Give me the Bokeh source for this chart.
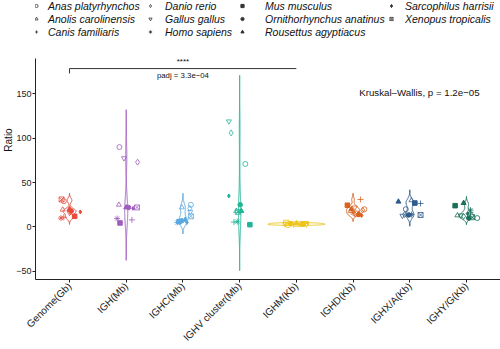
import numpy as np
from bokeh.plotting import figure
from bokeh.models import Legend, LegendItem, FixedTicker, Range1d, ColumnDataSource, Title
from bokeh.core.properties import value
from bokeh.embed import file_html
from bokeh.resources import INLINE

categories = ["Genome(Gb)", "IGH(Mb)", "IGHC(Mb)", "IGHV cluster(Mb)",
              "IGHM(Kb)", "IGHD(Kb)", "IGHX/A(Kb)", "IGHY/G(Kb)"]
species = ["Anas platyrhynchos", "Anolis carolinensis", "Canis familiaris",
           "Danio rerio", "Gallus gallus", "Homo sapiens", "Mus musculus",
           "Ornithorhynchus anatinus", "Rousettus agyptiacus",
           "Sarcophilus harrisii", "Xenopus tropicalis"]

# values per category, in species order
genome = [29, 19.5, 11, 17, 16, 10, 12, 18, 20, 17, 31]
igh = [90, 25, 8, 73, 77.5, 9.5, 4.5, 22, 22, 21, 22]
ighc = [25, 22, 6, 21, 17, 5, 6, 7, 8, 5, 12]
ighv = [71, 18, 5.5, 106, 119, 6, 2.6, 25, 18, 35, 17]
ighm = [2.0, 2.3, 2.4, 2.9, 3.1, 3.2, 3.6, 3.9, 4.1, 4.5, 4.8]
ighd = [20, 18, 31, 19, 22, 16, 24.5, 14, 20, 13, 15]
ighxa = [20, 30, 26.5, 14, 12.7, 14, 27, 13.5, 28.5, 26, 13.5]
ighyg = [10, 13, 16, 12, 13, 19, 24, 10, 27, 15, 11]
values = [genome, igh, ighc, ighv, ighm, ighd, ighxa, ighyg]

# horizontal jitter (category units)
jit_genome = [-0.10, -0.12, -0.10, 0.02, 0.00, -0.15, 0.09, 0.03, 0.00, 0.19, -0.14]
jit_igh = [-0.12, -0.13, 0.10, 0.20, -0.04, -0.16, -0.11, 0.04, 0.00, 0.12, 0.19]
jit_ighc = [0.14, -0.02, -0.05, 0.12, 0.13, -0.10, -0.07, -0.02, 0.04, 0.07, 0.14]
jit_ighv = [0.10, -0.06, -0.10, -0.15, -0.19, -0.04, 0.18, 0.01, 0.03, -0.19, -0.03]
jit_ighm = [-0.15, 0.10, -0.05, 0.18, -0.20, 0.05, 0.12, -0.10, 0.00, 0.20, -0.18]
jit_ighd = [0.20, -0.04, 0.13, 0.17, 0.03, 0.00, -0.10, 0.10, -0.03, 0.15, 0.06]
jit_ighxa = [-0.07, 0.03, 0.19, -0.09, -0.13, 0.03, 0.09, -0.02, -0.20, 0.07, 0.19]
jit_ighyg = [0.19, -0.16, 0.07, -0.05, -0.10, 0.07, -0.20, 0.04, -0.05, 0.02, 0.10]
jitters = [jit_genome, jit_igh, jit_ighc, jit_ighv, jit_ighm, jit_ighd, jit_ighxa, jit_ighyg]

colors = ["#E8493B", "#A05CC0", "#5BA8E0", "#1FB597", "#EFC419", "#D9611E", "#2D5B8A", "#17705A"]

markers = ["circle", "triangle", "cross", "diamond", "inverted_triangle", "asterisk",
           "square", "circle", "triangle", "diamond", "square_x"]
filled = [False, False, False, False, False, False, True, True, True, True, False]
msize = [5, 5, 6, 6, 5, 6, 4.5, 4.5, 5, 4, 5]

# legend column groups (column-major, 3 rows)
legend_columns = [[0, 1, 2], [3, 4, 5], [6, 7, 8], [9, 10]]
legend_col_x = [-3, 111, 203, 352]        # screen offset of each column from frame left
legend_col_standoff = [8, 11, 19, 10]

FONT = "Liberation Sans"
Y_LO, Y_HI, Y_TOP = -59.2, 190, 255.2

p = figure(width=500, height=349, output_backend="svg", toolbar_location=None,
           x_range=Range1d(0.4, 8.6), y_range=Range1d(Y_LO, Y_TOP),
           min_border_left=34, min_border_right=0, min_border_top=0, min_border_bottom=69)
p.grid.visible = False
p.outline_line_color = None
p.background_fill_color = "white"

# violins: gaussian KDE, bw.nrd0, extended 3 bw, area scaling, width 1
def nrd0(x):
    x = np.asarray(x, float)
    hi = np.std(x, ddof=1)
    q75, q25 = np.percentile(x, [75, 25])
    lo = min(hi, (q75 - q25) / 1.34)
    if lo <= 0:
        lo = hi if hi > 0 else 1.0
    return 0.9 * lo * len(x) ** -0.2

kdes = []
for vals in values:
    x = np.asarray(vals, float)
    bw = nrd0(x)
    g = np.linspace(x.min() - 3 * bw, x.max() + 3 * bw, 512)
    d = np.exp(-0.5 * ((g[:, None] - x[None, :]) / bw) ** 2).sum(axis=1) / (len(x) * bw * np.sqrt(2 * np.pi))
    kdes.append((g, d))
gmax = max(d.max() for g, d in kdes)
for i, (g, d) in enumerate(kdes):
    hw = 0.5 * d / gmax
    c = i + 1
    xs = np.concatenate([c - hw, (c + hw)[::-1]])
    ys = np.concatenate([g, g[::-1]])
    p.patch(xs, ys, fill_color="white", fill_alpha=0.0, line_color=colors[i], line_width=1)

# points
for s in range(len(species)):
    xs = [i + 1 + jitters[i][s] for i in range(len(categories))]
    ys = [values[i][s] for i in range(len(categories))]
    src = ColumnDataSource(dict(x=xs, y=ys, c=colors))
    if filled[s]:
        p.scatter("x", "y", source=src, marker=markers[s], size=msize[s],
                  fill_color="c", line_color="c", line_width=1)
    else:
        p.scatter("x", "y", source=src, marker=markers[s], size=msize[s],
                  fill_color=None, line_color="c", line_width=0.8)

# legend renderers (dark shapes)
leg_renderers = []
for s in range(len(species)):
    src = ColumnDataSource(dict(x=[np.nan], y=[np.nan]))
    if filled[s]:
        r = p.scatter("x", "y", source=src, marker=markers[s], size=msize[s],
                      fill_color="#333333", line_color="#333333")
    else:
        r = p.scatter("x", "y", source=src, marker=markers[s], size=msize[s],
                      fill_color=None, line_color="#333333", line_width=0.8)
    leg_renderers.append(r)

ROW_H = 13
for col, lx, so in zip(legend_columns, legend_col_x, legend_col_standoff):
    items = [LegendItem(label=species[s], renderers=[leg_renderers[s]]) for s in col]
    lg = Legend(items=items, orientation="vertical",
                location=(lx, 280 - ROW_H * len(col)),
                label_text_font=FONT, label_text_font_style="italic",
                label_text_font_size="10.5px", label_text_color="#111111",
                glyph_width=8, glyph_height=ROW_H, label_height=ROW_H, label_standoff=so,
                spacing=0, padding=0, margin=0, border_line_color=None,
                background_fill_alpha=0.0)
    p.add_layout(lg, "center")

# bracket and annotations
p.segment(x0=[1], y0=[178.5], x1=[5], y1=[178.5], line_color="#333333", line_width=1)
p.segment(x0=[1], y0=[178.5], x1=[1], y1=[173], line_color="#333333", line_width=1)
p.text(x=[3], y=[186.5], text=["****"], text_align="center", text_baseline="middle",
       text_font_size="8px", text_color="#111111", text_font=value(FONT))
p.text(x=[3], y=[171], text=["padj = 3.3e\u221204"], text_align="center", text_baseline="middle",
       text_font_size="7.8px", text_color="#111111", text_font=value(FONT))
p.text(x=[6.11], y=[152], text=["Kruskal\u2013Wallis, p = 1.2e\u221205"], text_align="left",
       text_baseline="middle", text_font_size="9.7px", text_color="#111111",
       text_font=value(FONT))

# axes
p.xaxis.ticker = FixedTicker(ticks=list(range(1, 9)))
p.xaxis.major_label_overrides = {i + 1: c for i, c in enumerate(categories)}
p.xaxis.major_label_orientation = np.pi / 4
p.yaxis.ticker = FixedTicker(ticks=[-50, 0, 50, 100, 150])
p.yaxis.major_label_overrides = {-50: "\u221250"}
p.yaxis.bounds = (Y_LO, Y_HI)
for ax in (p.xaxis[0], p.yaxis[0]):
    ax.axis_line_color = "#222222"
    ax.major_tick_line_color = "#222222"
    ax.major_tick_out = 3
    ax.major_tick_in = 0
    ax.minor_tick_line_color = None
    ax.major_label_text_font = FONT
    ax.major_label_text_color = "#222222"
    ax.major_label_standoff = 2
p.xaxis.major_label_text_font_size = "10px"
p.yaxis.major_label_text_font_size = "9px"
p.yaxis.major_label_standoff = 1

# y axis title, centred on the data part of the axis
ytitle = Title(text="Ratio", align="center", offset=-37, standoff=0,
               text_font=FONT, text_font_style="normal", text_font_size="10px",
               text_color="#111111")
p.add_layout(ytitle, "left")

open("out.html", "w").write(file_html(p, INLINE))
